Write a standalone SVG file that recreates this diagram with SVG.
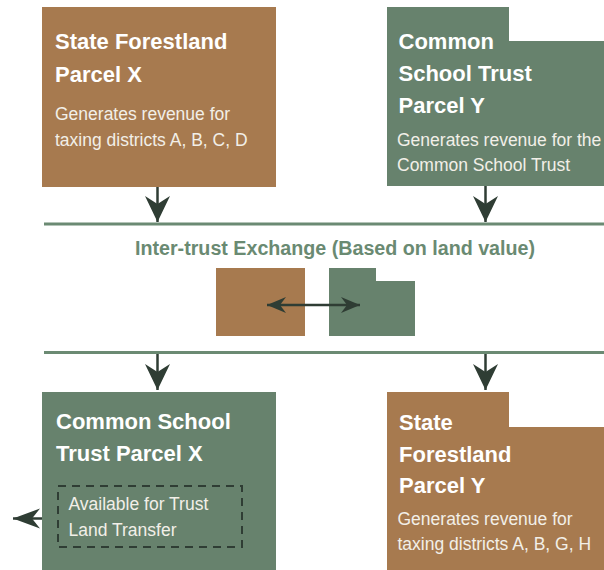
<svg xmlns="http://www.w3.org/2000/svg" width="604" height="570" viewBox="0 0 604 570">
<defs>
<style>
.brown{fill:#a77a4f}
.green{fill:#67826d}
.title{font-family:"Liberation Sans",Arial,sans-serif;font-weight:bold;font-size:22px;fill:#ffffff}
.body{font-family:"Liberation Sans",Arial,sans-serif;font-size:17.5px;fill:#f2efe8}
.head{font-family:"Liberation Sans",Arial,sans-serif;font-weight:bold;font-size:20px;fill:#6a8a72}
.rule{stroke:#6b8a73;stroke-width:3;fill:none}
.conn{stroke:#2f3d34;stroke-width:2.5;fill:none}
</style>
<marker id="ah" markerUnits="userSpaceOnUse" viewBox="-27 -14 29 28" markerWidth="29" markerHeight="28" refX="0" refY="0" orient="auto">
<path d="M0,0 L-26,-12.5 L-18,0 L-26,12.5 Z" fill="#2f3d34"/>
</marker>
<marker id="ahl" markerUnits="userSpaceOnUse" viewBox="-28 -11 30 22" markerWidth="30" markerHeight="22" refX="0" refY="0" orient="auto">
<path d="M0,0 L-27,-10 L-19,0 L-27,10 Z" fill="#2f3d34"/>
</marker>
<marker id="ahs" markerUnits="userSpaceOnUse" viewBox="-20 -9 22 18" markerWidth="22" markerHeight="18" refX="0" refY="0" orient="auto-start-reverse">
<path d="M0,0 L-19,-8 L-13,0 L-19,8 Z" fill="#2f3d34"/>
</marker>
</defs>
<rect width="604" height="570" fill="#ffffff"/>

<g id="connectors">
<line class="rule" x1="44" y1="224" x2="604" y2="224"/>
<line class="rule" x1="44" y1="352.5" x2="604" y2="352.5"/>
<line class="conn" x1="157.5" y1="187" x2="157.5" y2="222" marker-end="url(#ah)"/>
<line class="conn" x1="485.5" y1="186" x2="485.5" y2="222" marker-end="url(#ah)"/>
<line class="conn" x1="157.5" y1="354" x2="157.5" y2="390" marker-end="url(#ah)"/>
<line class="conn" x1="485.5" y1="354" x2="485.5" y2="390" marker-end="url(#ah)"/>
<line class="conn" x1="58" y1="518.5" x2="13" y2="518.5" marker-end="url(#ahl)"/>
</g>

<g id="state-forestland-x">
<rect class="brown" x="42" y="7" width="234" height="180"/>
<text class="title" x="55" y="49">State Forestland</text>
<text class="title" x="55" y="82">Parcel X</text>
<text class="body" x="55" y="120">Generates revenue for</text>
<text class="body" x="55" y="146">taxing districts A, B, C, D</text>
</g>

<g id="common-school-y">
<path class="green" d="M387,7 H509 V41 H604 V186 H387 Z"/>
<text class="title" x="398.5" y="49">Common</text>
<text class="title" x="398.5" y="81">School Trust</text>
<text class="title" x="398.5" y="113">Parcel Y</text>
<text class="body" x="397" y="146">Generates revenue for the</text>
<text class="body" x="397" y="170.5">Common School Trust</text>
</g>

<g id="exchange">
<text class="head" x="135" y="255" textLength="400" lengthAdjust="spacingAndGlyphs">Inter-trust Exchange (Based on land value)</text>
<rect class="brown" x="216" y="268" width="89" height="68"/>
<path class="green" d="M329,268 H376 V281 H415 V336 H329 Z"/>
<line class="conn" x1="267" y1="305" x2="360" y2="305" marker-start="url(#ahs)" marker-end="url(#ahs)"/>
</g>

<g id="common-school-x">
<rect class="green" x="42" y="392" width="234" height="178"/>
<text class="title" x="56" y="429">Common School</text>
<text class="title" x="56" y="461">Trust Parcel X</text>
<rect x="58" y="486" width="184" height="61" fill="none" stroke="#2f3d34" stroke-width="2" stroke-dasharray="8,6"/>
<text class="body" x="68.5" y="510">Available for Trust</text>
<text class="body" x="68.5" y="535.5">Land Transfer</text>
</g>

<g id="state-forestland-y">
<path class="brown" d="M387,392 H509 V427 H604 V570 H387 Z"/>
<text class="title" x="399" y="430">State</text>
<text class="title" x="399" y="461.5">Forestland</text>
<text class="title" x="399" y="493">Parcel Y</text>
<text class="body" x="397.5" y="525">Generates revenue for</text>
<text class="body" x="397.5" y="550">taxing districts A, B, G, H</text>
</g>
</svg>
